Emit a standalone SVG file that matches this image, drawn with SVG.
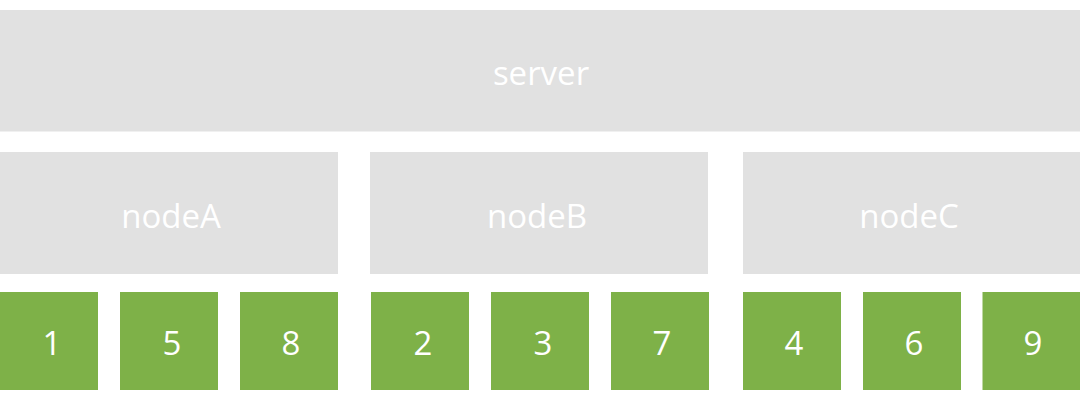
<svg xmlns="http://www.w3.org/2000/svg" width="1080" height="400" viewBox="0 0 1080 400">
<style>
.g{fill:#e1e1e1}
.k{fill:#7eb148}
text{fill:#ffffff;font-family:"Open Sans","Noto Sans",sans-serif;font-size:33px;font-weight:500;text-anchor:middle;dominant-baseline:central}
</style>
<rect width="1080" height="400" fill="#ffffff"/>
<g id="server"><rect class="g" x="0" y="10" width="1080" height="121.5"/><text x="541" y="72">server</text></g>
<g id="nodeA"><rect class="g" x="0" y="152" width="338" height="122"/><text x="171" y="215">nodeA</text></g>
<g id="nodeB"><rect class="g" x="370" y="152" width="338" height="122"/><text x="537" y="215">nodeB</text></g>
<g id="nodeC"><rect class="g" x="743" y="152" width="337" height="122"/><text x="909" y="215">nodeC</text></g>
<g id="s1"><rect class="k" x="0" y="292" width="98" height="98"/><text x="52" y="342">1</text></g>
<g id="s5"><rect class="k" x="120" y="292" width="98" height="98"/><text x="172" y="342">5</text></g>
<g id="s8"><rect class="k" x="240" y="292" width="98" height="98"/><text x="291" y="342">8</text></g>
<g id="s2"><rect class="k" x="371" y="292" width="98" height="98"/><text x="423" y="342">2</text></g>
<g id="s3"><rect class="k" x="491" y="292" width="98" height="98"/><text x="543" y="342">3</text></g>
<g id="s7"><rect class="k" x="611" y="292" width="98" height="98"/><text x="662" y="342">7</text></g>
<g id="s4"><rect class="k" x="743" y="292" width="98" height="98"/><text x="794" y="342">4</text></g>
<g id="s6"><rect class="k" x="863" y="292" width="98" height="98"/><text x="914" y="342">6</text></g>
<g id="s9"><rect class="k" x="982.5" y="292" width="97.5" height="98"/><text x="1033" y="342">9</text></g>
<g id="connectors"></g>
</svg>
